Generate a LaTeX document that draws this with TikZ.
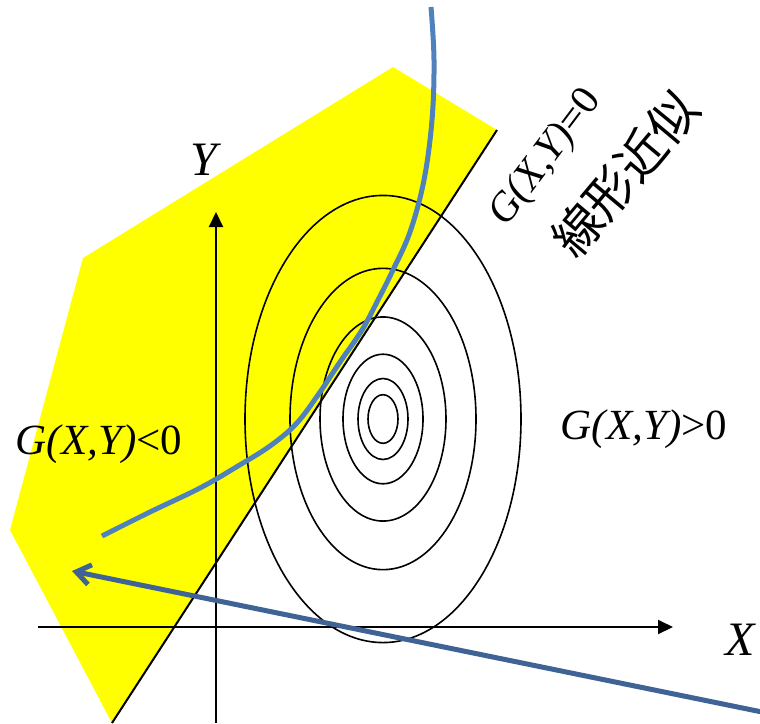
\documentclass[tikz,border=0pt]{standalone}
\usepackage{fontspec}
\setmainfont{Liberation Serif}
\newfontfamily\cjk{Noto Sans CJK JP}
\usetikzlibrary{arrows.meta}
\definecolor{curveblue}{RGB}{79,129,189}
\definecolor{arrowblue}{RGB}{62,99,148}
\definecolor{regionyellow}{RGB}{255,255,0}
\tikzset{
  contour/.style={draw=black, line width=1.6pt},
  axis/.style={draw=black, line width=2pt, -{Triangle[length=15pt,width=14pt]}},
  biglabel/.style={inner sep=0pt, font=\fontsize{48}{56}\selectfont\itshape},
  glabel/.style={inner sep=0pt, font=\fontsize{43}{50}\selectfont},
}
\begin{document}
\begin{tikzpicture}[x=1pt,y=-1pt]
\useasboundingbox (0,0) rectangle (760,723);
% feasible region
\fill[regionyellow] (393,67) -- (497,130) -- (112,723) -- (10,530) -- (83,258) -- cycle;
\coordinate (lt) at (497,130);
\coordinate (lb) at (112,723);
\draw[line width=2pt] (lt) -- (lb);
% contours
\coordinate (c) at (383,419);
\foreach \r in {15,25,40,63,93,138}{
  \draw[contour] (c) ellipse [x radius=\r pt, y radius=1.62*\r pt];
}
% axes
\coordinate (xs) at (38,627);
\coordinate (xe) at (673,627);
\coordinate (ys) at (216,723);
\coordinate (ye) at (216,212);
\draw[axis] (xs) -- (xe);
\draw[axis] (ys) -- (ye);
% limit state curve
\draw[curveblue, line width=5pt] plot[smooth, tension=0.6] coordinates {
 (431,7) (434,60) (432,120) (424,180) (410,232) (392,272) (378,300) (362,330)
 (340,362) (318,395) (296,424) (270,446) (238,466) (200,488) (150,512) (102,536)};
% search arrow
\coordinate (as) at (762,712);
\coordinate (ae) at (72,571);
\draw[arrowblue, line width=5pt, -{Straight Barb[length=14pt,width=20pt]}] (as) -- (ae);
% labels
\node[biglabel] (ylab) at (204,160) {Y};
\node[biglabel] (xlab) at (740,640) {X};
\node[glabel] (neg) at (99,444) {\itshape G(X,Y)\upshape<0};
\node[glabel] (pos) at (644,429) {\itshape G(X,Y)\upshape>0};
\node[glabel, rotate=53, font=\fontsize{41}{48}\selectfont] (zero) at (546,158) {\itshape G(X,Y)\upshape=0};
\node[inner sep=0pt, rotate=50, font=\fontsize{49}{56}\selectfont\cjk] (lin) at (625,174) {線形近似};
\end{tikzpicture}
\end{document}
